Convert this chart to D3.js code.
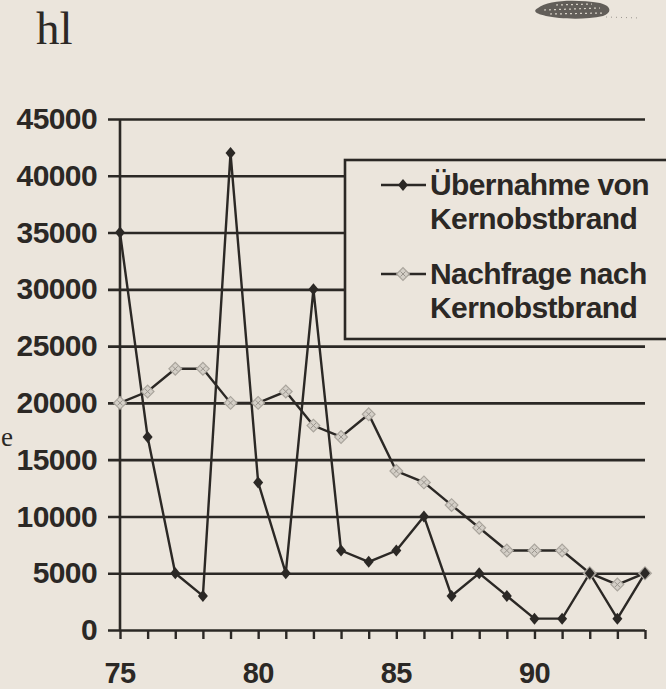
<!DOCTYPE html>
<html>
<head>
<meta charset="utf-8">
<script src="https://cdn.jsdelivr.net/npm/d3@7"></script>
<style>
  html, body { margin: 0; padding: 0; background: #ebe5dc; }
  svg { display: block; }
</style>
</head>
<body>
<div id="chart"></div>
<script>
// data
const years = [75,76,77,78,79,80,81,82,83,84,85,86,87,88,89,90,91,92,93,94];
const uebernahme = [35000,17000,5000,3000,42000,13000,5000,30000,7000,6000,7000,10000,3000,5000,3000,1000,1000,5000,1000,5000];
const nachfrage = [20000,21000,23000,23000,20000,20000,21000,18000,17000,19000,14000,13000,11000,9000,7000,7000,7000,5000,4000,5000];
const yTicks = [0,5000,10000,15000,20000,25000,30000,35000,40000,45000];
const xLabels = [75,80,85,90];
const seriesNames = [["Übernahme von","Kernobstbrand"],["Nachfrage nach","Kernobstbrand"]];

const ink = '#2b2825';
const W = 666, H = 689;

const svg = d3.select('#chart').append('svg')
  .attr('width', W).attr('height', H);

svg.append('rect').attr('width', W).attr('height', H).attr('fill', '#ebe5dc');

// scales
var x = d3.scaleLinear().domain([75, 94]).range([120, 645]);
var y = d3.scaleLinear().domain([0, 45000]).range([630, 119]);

// unit label + stray letter from the scan
svg.append('text').attr('x', 36).attr('y', 44)
  .attr('font-family', 'Liberation Serif, Times New Roman, serif')
  .attr('font-size', 47).attr('fill', ink).text('hl');
svg.append('text').attr('x', 1).attr('y', 446)
  .attr('font-family', 'Liberation Serif, Times New Roman, serif')
  .attr('font-size', 27).attr('fill', ink).text('e');

// scanner smudge top right
svg.append('path')
  .attr('d', 'M538,8 C548,0 575,-1 600,3 C612,6 612,13 603,16 C585,20 560,19 546,16 C536,14 532,11 538,8 Z')
  .attr('fill', '#4a4642').attr('opacity', 0.85);
svg.append('path')
  .attr('d', 'M544,10 L600,8 M550,14 L604,13 M556,5 L592,4')
  .attr('stroke', '#d8d2c8').attr('stroke-width', 1.2).attr('stroke-dasharray', '2,3');
svg.append('path')
  .attr('d', 'M606,17 L640,18')
  .attr('stroke', '#9a958e').attr('stroke-width', 1).attr('stroke-dasharray', '1,4');

// y axis with gridlines
const yAxis = svg.append('g')
  .attr('transform', 'translate(120,0)')
  .call(d3.axisLeft(y).tickValues(yTicks).tickSize(12).tickPadding(11).tickFormat(d3.format('d')));
yAxis.select('.domain').remove();
yAxis.selectAll('.tick line')
  .attr('x1', -12).attr('x2', 525)
  .attr('stroke', ink).attr('stroke-width', 2.6);
yAxis.selectAll('.tick text')
  .attr('fill', ink)
  .attr('font-family', 'Liberation Sans, Arial, Helvetica, sans-serif')
  .attr('font-weight', 'bold').attr('font-size', 30)
  .attr('letter-spacing', -0.6);

// vertical axis line
svg.append('line')
  .attr('x1', x(75)).attr('x2', x(75))
  .attr('y1', y(45000)).attr('y2', y(0))
  .attr('stroke', ink).attr('stroke-width', 2.6);

// x axis ticks (every year) + labels
const xAxis = svg.append('g')
  .attr('transform', 'translate(0,' + y(0) + ')')
  .call(d3.axisBottom(x).tickValues(years).tickSize(9).tickFormat(''));
xAxis.select('.domain').remove();
xAxis.selectAll('.tick line').attr('stroke', ink).attr('stroke-width', 2.4);

svg.append('g').selectAll('text')
  .data(xLabels).enter().append('text')
  .attr('x', d => x(d)).attr('y', 683)
  .attr('text-anchor', 'middle')
  .attr('font-family', 'Liberation Sans, Arial, Helvetica, sans-serif')
  .attr('font-weight', 'bold').attr('font-size', 29)
  .attr('letter-spacing', -0.6)
  .attr('fill', ink).text(d => d);

// lines
var line = d3.line()
  .x((d, i) => x(years[i]))
  .y(d => y(d));

const greyMarker = (g) => {
  g.append('rect')
    .attr('x', -4.5).attr('y', -4.5).attr('width', 9).attr('height', 9)
    .attr('fill', '#d4cfc7').attr('stroke', '#aaa59d').attr('stroke-width', 1.2)
    .attr('transform', 'rotate(45)');
  g.append('path').attr('d', 'M-2.5,-2.5L2.5,2.5M-2.5,2.5L2.5,-2.5')
    .attr('stroke', '#9a958e').attr('stroke-width', 1);
};
const darkMarker = (g) => {
  g.append('path').attr('d', 'M0,-6L5,0L0,6L-5,0Z').attr('fill', ink);
};

// Legend box (drawn before series so series at left stay visible)
svg.append('rect')
  .attr('x', 345).attr('y', 160).attr('width', 340).attr('height', 179)
  .attr('fill', '#ebe5dc').attr('stroke', ink).attr('stroke-width', 2.6);

svg.append('path')
  .attr('d', line(nachfrage))
  .attr('fill', 'none').attr('stroke', ink).attr('stroke-width', 2.4);
svg.append('path')
  .attr('d', line(uebernahme))
  .attr('fill', 'none').attr('stroke', ink).attr('stroke-width', 2.4);

svg.append('g').selectAll('g')
  .data(nachfrage).enter().append('g')
  .attr('transform', (d, i) => 'translate(' + x(years[i]) + ',' + y(d) + ')')
  .each(function () { greyMarker(d3.select(this)); });
svg.append('g').selectAll('g')
  .data(uebernahme).enter().append('g')
  .attr('transform', (d, i) => 'translate(' + x(years[i]) + ',' + y(d) + ')')
  .each(function () { darkMarker(d3.select(this)); });

// legend entries
const legendY = [[195, 229], [284, 318]];
const markY = [185, 274];
seriesNames.forEach((names, k) => {
  const lg = svg.append('g');
  lg.append('line').attr('x1', 381).attr('x2', 426)
    .attr('y1', markY[k]).attr('y2', markY[k])
    .attr('stroke', ink).attr('stroke-width', 2.4);
  const m = lg.append('g').attr('transform', 'translate(403,' + markY[k] + ')');
  if (k === 0) darkMarker(m); else greyMarker(m);
  names.forEach((t, j) => {
    lg.append('text').attr('x', 430).attr('y', legendY[k][j])
      .attr('font-family', 'Liberation Sans, Arial, Helvetica, sans-serif')
      .attr('font-weight', 'bold').attr('font-size', 30)
      .attr('letter-spacing', -0.6)
      .attr('fill', ink).text(t);
  });
});
</script>
</body>
</html>
